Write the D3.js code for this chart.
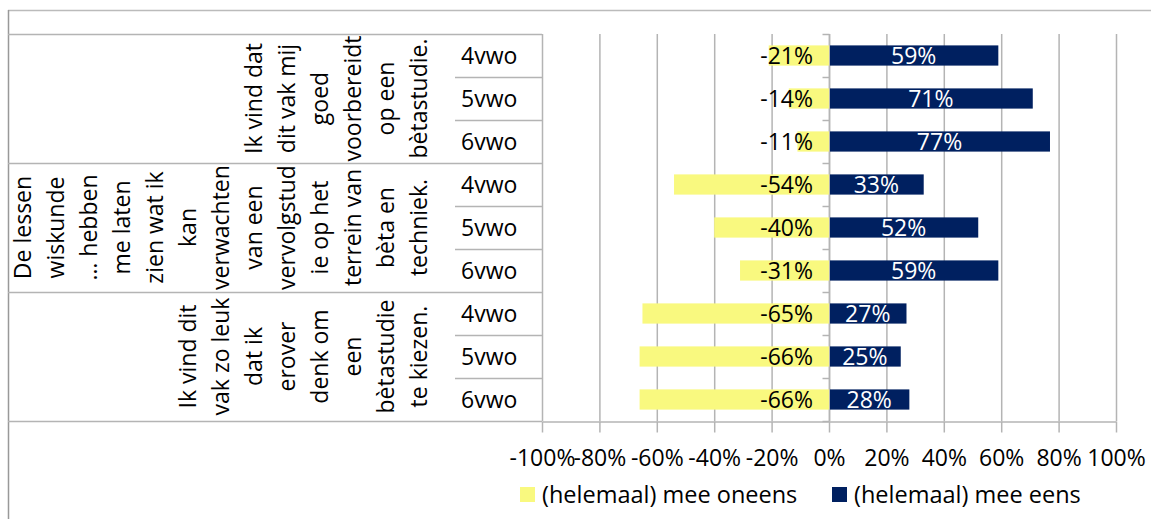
<!DOCTYPE html>
<html>
<head>
<meta charset="utf-8">
<script src="https://cdn.jsdelivr.net/npm/d3@7"></script>
<style>
  body { margin: 0; background: #fff; }
  text { font-family: "Open Sans", sans-serif; }
</style>
</head>
<body>
<script>
// data
var levels = ["4vwo", "5vwo", "6vwo"];
var groupLines = [
  ["Ik vind dat", "dit vak mij", "goed", "voorbereidt", "op een", "bètastudie."],
  ["De lessen", "wiskunde", "… hebben", "me laten", "zien wat ik", "kan", "verwachten", "van een", "vervolgstud", "ie op het", "terrein van", "bèta en", "techniek."],
  ["Ik vind dit", "vak zo leuk", "dat ik", "erover", "denk om", "een", "bètastudie", "te kiezen."]
];
var disagree = [-21, -14, -11, -54, -40, -31, -65, -66, -66];
var agree = [59, 71, 77, 33, 52, 59, 27, 25, 28];
var seriesNames = ["(helemaal) mee oneens", "(helemaal) mee eens"];
var ticks = [-100, -80, -60, -40, -20, 0, 20, 40, 60, 80, 100];

var W = 1151, H = 519;
var gray = "#b4b4b4";
var yellow = "#f9f97f", navy = "#002060";

var rows = [];
groupLines.forEach(function(g, gi) {
  levels.forEach(function(l, li) {
    var i = gi * 3 + li;
    rows.push({key: gi + "|" + l, group: gi, level: l, neg: disagree[i], pos: agree[i]});
  });
});

var svg = d3.select("body").append("svg")
  .attr("width", W).attr("height", H);

// outer frame
svg.append("line").attr("x1", 8).attr("x2", W).attr("y1", 10.5).attr("y2", 10.5)
  .attr("stroke", "#bbb").attr("stroke-width", 1.5);
svg.append("line").attr("x1", 8.5).attr("x2", 8.5).attr("y1", 10).attr("y2", H)
  .attr("stroke", "#999").attr("stroke-width", 1.5);

var plotTop = 34, plotBottom = 421;
var x = d3.scaleLinear().domain([-100, 100]).range([542, 1116]);
var y = d3.scaleBand().domain(rows.map(function(d) { return d.key; }))
  .range([plotTop, plotBottom]).paddingInner(0.53).paddingOuter(0.265);
var step = y.step();

// gridlines
svg.append("g").selectAll("line").data(ticks).enter().append("line")
  .attr("x1", function(d) { return x(d) + 0.5; })
  .attr("x2", function(d) { return x(d) + 0.5; })
  .attr("y1", plotTop).attr("y2", plotBottom)
  .attr("stroke", gray).attr("stroke-width", 1.5);

// table lines on the left
var tbl = svg.append("g").attr("stroke", gray).attr("stroke-width", 1.5);
tbl.append("line").attr("x1", 8).attr("x2", x(-100)).attr("y1", plotTop + 0.5).attr("y2", plotTop + 0.5);
rows.forEach(function(d, i) {
  var yb = plotTop + step * (i + 1) + 0.5;
  var full = (i % 3 === 2);
  tbl.append("line").attr("x1", full ? 8 : 455).attr("x2", x(-100))
    .attr("y1", yb).attr("y2", yb);
});

// bottom axis
var xAxis = svg.append("g")
  .attr("transform", "translate(0," + (plotBottom + 0.5) + ")")
  .call(d3.axisBottom(x).tickValues(ticks).tickSize(11).tickSizeOuter(0)
    .tickFormat(function(d) { return d + "%"; }));
xAxis.select(".domain").attr("stroke", gray).attr("stroke-width", 1.5);
xAxis.selectAll(".tick line").attr("stroke", gray).attr("stroke-width", 1.5);
xAxis.selectAll(".tick text")
  .attr("y", 36).attr("dy", "0.35em")
  .attr("fill", "#000")
  .style("font-size", "23px")
  .style("font-family", "'Open Sans', sans-serif");

// zero axis with row ticks
var zx = x(0) + 0.5;
svg.append("line").attr("x1", zx).attr("x2", zx).attr("y1", plotTop).attr("y2", plotBottom)
  .attr("stroke", gray).attr("stroke-width", 1.5);
svg.append("g").selectAll("line").data(d3.range(rows.length + 1)).enter().append("line")
  .attr("x1", zx - 7).attr("x2", zx)
  .attr("y1", function(i) { return plotTop + step * i + 0.5; })
  .attr("y2", function(i) { return plotTop + step * i + 0.5; })
  .attr("stroke", gray).attr("stroke-width", 1.5);

// bars
svg.append("g").selectAll("rect").data(rows).enter().append("rect")
  .attr("x", function(d) { return x(d.neg); })
  .attr("y", function(d) { return y(d.key); })
  .attr("width", function(d) { return x(0) - x(d.neg); })
  .attr("height", y.bandwidth())
  .attr("fill", yellow);
svg.append("g").selectAll("rect").data(rows).enter().append("rect")
  .attr("x", x(0) + 1)
  .attr("y", function(d) { return y(d.key); })
  .attr("width", function(d) { return x(d.pos) - x(0) - 1; })
  .attr("height", y.bandwidth())
  .attr("fill", navy);

// data labels
svg.append("g").selectAll("text").data(rows).enter().append("text")
  .attr("x", x(0) - 16)
  .attr("y", function(d) { return y(d.key) + y.bandwidth() / 2; })
  .attr("dy", "0.36em")
  .attr("text-anchor", "end")
  .style("font-size", "23px")
  .attr("fill", "#000")
  .text(function(d) { return d.neg + "%"; });
svg.append("g").selectAll("text").data(rows).enter().append("text")
  .attr("x", function(d) { return (x(0) + x(d.pos)) / 2; })
  .attr("y", function(d) { return y(d.key) + y.bandwidth() / 2; })
  .attr("dy", "0.36em")
  .attr("text-anchor", "middle")
  .style("font-size", "23px")
  .attr("fill", "#fff")
  .text(function(d) { return d.pos + "%"; });

// level labels
svg.append("g").selectAll("text").data(rows).enter().append("text")
  .attr("x", 461)
  .attr("y", function(d) { return y(d.key) + y.bandwidth() / 2; })
  .attr("dy", "0.36em")
  .style("font-size", "23px")
  .attr("fill", "#000")
  .text(function(d) { return d.level; });

// rotated group labels
groupLines.forEach(function(lines, gi) {
  var cy = plotTop + step * (gi * 3 + 1.5);
  var n = lines.length;
  svg.append("g").selectAll("text").data(lines).enter().append("text")
    .attr("transform", function(d, i) {
      return "translate(" + (419 - (n - 1 - i) * 33) + "," + cy + ") rotate(-90)";
    })
    .attr("text-anchor", "middle")
    .attr("dy", "0.36em")
    .style("font-size", "23px")
    .attr("fill", "#000")
    .text(function(d) { return d; });
});

// legend
var legend = svg.append("g").attr("transform", "translate(0,494.5)");
var lx = [520, 832];
seriesNames.forEach(function(s, i) {
  legend.append("rect").attr("x", lx[i]).attr("y", -7.5).attr("width", 15).attr("height", 15)
    .attr("fill", i === 0 ? yellow : navy);
  legend.append("text").attr("x", lx[i] + 22).attr("y", 0).attr("dy", "0.36em")
    .style("font-size", "23.5px").attr("fill", "#000").text(s);
});
</script>
</body>
</html>
